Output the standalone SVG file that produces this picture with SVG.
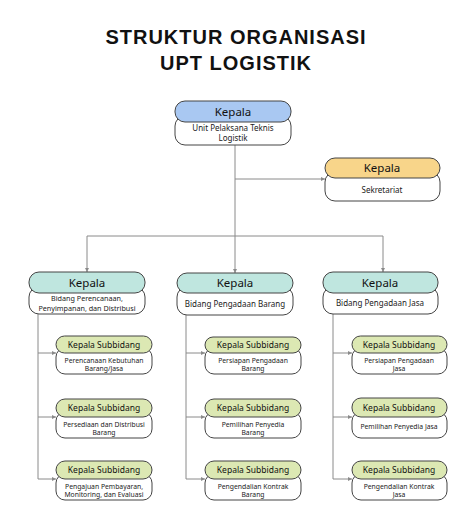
<svg xmlns="http://www.w3.org/2000/svg" width="474" height="532" viewBox="0 0 474 532">
<defs>
<style>
.title{font-family:"Liberation Sans",Arial,sans-serif;font-weight:bold;font-size:20px;letter-spacing:1px;fill:#111;text-anchor:middle}
.box{fill:#fff;stroke:#444;stroke-width:1}
.hb{fill:#a9c8f2;stroke:#444;stroke-width:1}
.hy{fill:#f8d58a;stroke:#444;stroke-width:1}
.ht{fill:#bfe6df;stroke:#444;stroke-width:1}
.hg{fill:#dce8b3;stroke:#444;stroke-width:1}
.h1{font-family:"Noto Sans",sans-serif;font-size:11.5px;fill:#111;text-anchor:middle}
.b1{font-family:"Noto Sans",sans-serif;font-size:8px;fill:#222;text-anchor:middle}
.b1s{font-family:"Noto Sans",sans-serif;font-size:7.2px;fill:#222;text-anchor:middle}
.h2{font-family:"Noto Sans",sans-serif;font-size:8.5px;fill:#111;text-anchor:middle}
.b2{font-family:"Noto Sans",sans-serif;font-size:6.8px;fill:#222;text-anchor:middle}
.ln{fill:none;stroke:#8a8a8a;stroke-width:1}
</style>
<marker id="ar" viewBox="0 0 6 6" refX="6" refY="3" markerWidth="4" markerHeight="4" orient="auto">
<path d="M0,0 L6,3 L0,6 z" fill="#8a8a8a"/>
</marker>
</defs>
<rect width="474" height="532" fill="#fff"/>
<text class="title" x="236" y="44">STRUKTUR ORGANISASI</text>
<text class="title" x="236" y="70">UPT LOGISTIK</text>

<g id="connectors">
<path class="ln" d="M235,145 V236"/>
<path class="ln" d="M235,179 H325" marker-end="url(#ar)"/>
<path class="ln" d="M87,236 H383"/>
<path class="ln" d="M87,236 V272" marker-end="url(#ar)"/>
<path class="ln" d="M235,236 V273" marker-end="url(#ar)"/>
<path class="ln" d="M383,236 V272" marker-end="url(#ar)"/>
<path class="ln" d="M38,314 V479"/>
<path class="ln" d="M38,353 H56" marker-end="url(#ar)"/>
<path class="ln" d="M38,417 H56" marker-end="url(#ar)"/>
<path class="ln" d="M38,479 H56" marker-end="url(#ar)"/>
<path class="ln" d="M186,315 V479"/>
<path class="ln" d="M186,353 H205" marker-end="url(#ar)"/>
<path class="ln" d="M186,417 H205" marker-end="url(#ar)"/>
<path class="ln" d="M186,479 H205" marker-end="url(#ar)"/>
<path class="ln" d="M333,314 V479"/>
<path class="ln" d="M333,353 H352" marker-end="url(#ar)"/>
<path class="ln" d="M333,417 H352" marker-end="url(#ar)"/>
<path class="ln" d="M333,479 H352" marker-end="url(#ar)"/>
</g>

<g id="kepala-upt">
<rect class="box" x="175" y="116" width="116" height="29" rx="10"/>
<rect class="hb" x="175" y="101" width="116" height="21" rx="10"/>
<text class="h1" x="233" y="116">Kepala</text>
<text class="b1" x="233" y="131">Unit Pelaksana Teknis</text>
<text class="b1" x="233" y="141">Logistik</text>
</g>

<g id="sekretariat">
<rect class="box" x="325" y="172" width="115" height="29" rx="10"/>
<rect class="hy" x="325" y="158" width="115" height="20" rx="10"/>
<text class="h1" x="382" y="172">Kepala</text>
<text class="b1" x="382" y="193">Sekretariat</text>
</g>

<g id="bidang-perencanaan">
<rect class="box" x="29" y="287" width="116" height="27" rx="10"/>
<rect class="ht" x="29" y="272" width="116" height="21" rx="10"/>
<text class="h1" x="87" y="287">Kepala</text>
<text class="b1s" x="87" y="301">Bidang Perencanaan,</text>
<text class="b1s" x="87" y="310.5">Penyimpanan, dan Distribusi</text>
</g>

<g id="bidang-barang">
<rect class="box" x="177" y="287" width="116" height="28" rx="10"/>
<rect class="ht" x="177" y="273" width="116" height="20" rx="10"/>
<text class="h1" x="235" y="287">Kepala</text>
<text class="b1" x="235" y="307">Bidang Pengadaan Barang</text>
</g>

<g id="bidang-jasa">
<rect class="box" x="323" y="287" width="115" height="27" rx="10"/>
<rect class="ht" x="323" y="272" width="115" height="21" rx="10"/>
<text class="h1" x="380" y="287">Kepala</text>
<text class="b1" x="380" y="306">Bidang Pengadaan Jasa</text>
</g>

<g id="sub-perencanaan">
<rect class="box" x="56" y="348" width="96" height="26" rx="9"/>
<rect class="hg" x="56" y="336" width="96" height="17" rx="8.5"/>
<text class="h2" x="104" y="348">Kepala Subbidang</text>
<text class="b2" x="104" y="363">Perencanaan Kebutuhan</text>
<text class="b2" x="104" y="371">Barang/Jasa</text>
</g>
<g id="sub-persediaan">
<rect class="box" x="56" y="412" width="96" height="26" rx="9"/>
<rect class="hg" x="56" y="399" width="96" height="18" rx="9"/>
<text class="h2" x="104" y="411">Kepala Subbidang</text>
<text class="b2" x="104" y="427">Persediaan dan Distribusi</text>
<text class="b2" x="104" y="435">Barang</text>
</g>
<g id="sub-pengajuan">
<rect class="box" x="56" y="474" width="96" height="26" rx="9"/>
<rect class="hg" x="56" y="461" width="96" height="18" rx="9"/>
<text class="h2" x="104" y="473">Kepala Subbidang</text>
<text class="b2" x="104" y="489">Pengajuan Pembayaran,</text>
<text class="b2" x="104" y="497">Monitoring, dan Evaluasi</text>
</g>

<g id="sub-persiapan-barang">
<rect class="box" x="205" y="348" width="96" height="26" rx="9"/>
<rect class="hg" x="205" y="337" width="96" height="16" rx="8"/>
<text class="h2" x="253" y="348">Kepala Subbidang</text>
<text class="b2" x="253" y="363">Persiapan Pengadaan</text>
<text class="b2" x="253" y="371">Barang</text>
</g>
<g id="sub-pemilihan-barang">
<rect class="box" x="205" y="412" width="96" height="26" rx="9"/>
<rect class="hg" x="205" y="399" width="96" height="18" rx="9"/>
<text class="h2" x="253" y="411">Kepala Subbidang</text>
<text class="b2" x="253" y="427">Pemilihan Penyedia</text>
<text class="b2" x="253" y="435">Barang</text>
</g>
<g id="sub-pengendalian-barang">
<rect class="box" x="205" y="474" width="96" height="26" rx="9"/>
<rect class="hg" x="205" y="461" width="96" height="18" rx="9"/>
<text class="h2" x="253" y="473">Kepala Subbidang</text>
<text class="b2" x="253" y="489">Pengendalian Kontrak</text>
<text class="b2" x="253" y="497">Barang</text>
</g>

<g id="sub-persiapan-jasa">
<rect class="box" x="352" y="348" width="95" height="26" rx="9"/>
<rect class="hg" x="352" y="336" width="95" height="17" rx="8.5"/>
<text class="h2" x="399" y="348">Kepala Subbidang</text>
<text class="b2" x="399" y="363">Persiapan Pengadaan</text>
<text class="b2" x="399" y="371">Jasa</text>
</g>
<g id="sub-pemilihan-jasa">
<rect class="box" x="352" y="412" width="95" height="26" rx="9"/>
<rect class="hg" x="352" y="398" width="95" height="19" rx="9"/>
<text class="h2" x="399" y="411">Kepala Subbidang</text>
<text class="b2" x="399" y="429">Pemilihan Penyedia Jasa</text>
</g>
<g id="sub-pengendalian-jasa">
<rect class="box" x="352" y="474" width="95" height="26" rx="9"/>
<rect class="hg" x="352" y="461" width="95" height="18" rx="9"/>
<text class="h2" x="399" y="473">Kepala Subbidang</text>
<text class="b2" x="399" y="489">Pengendalian Kontrak</text>
<text class="b2" x="399" y="497">Jasa</text>
</g>
</svg>
